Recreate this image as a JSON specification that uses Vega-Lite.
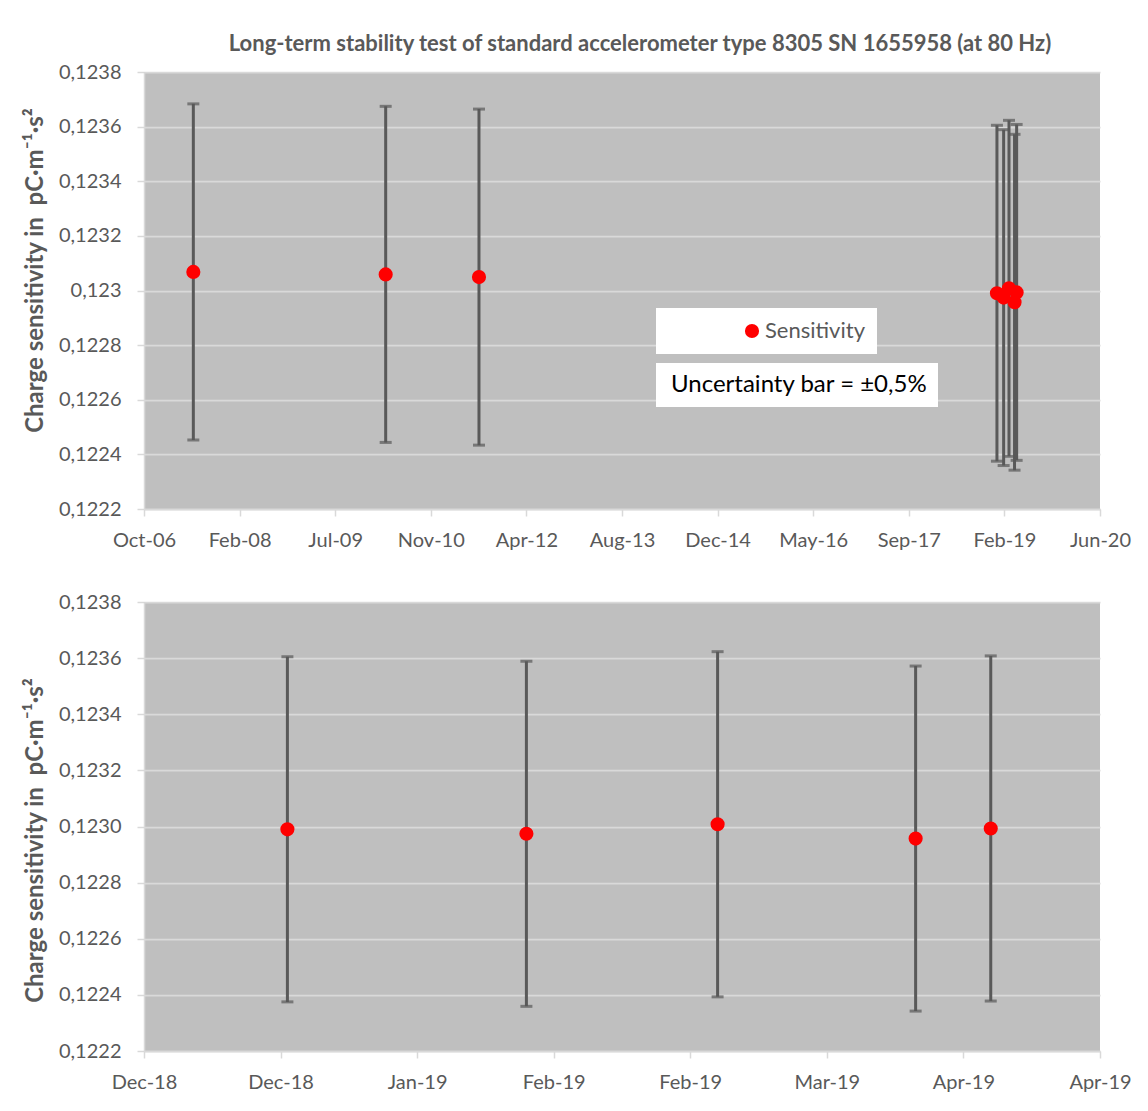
{
  "$schema": "https://vega.github.io/schema/vega-lite/v6.json",
  "background": "#FFFFFF",
  "padding": {"left": 23, "top": 33, "right": 12, "bottom": 8},
  "spacing": 42,
  "config": {
    "font": "Lato",
    "view": {"fill": "#BFBFBF", "stroke": null},
    "axis": {
      "labelFont": "Lato",
      "labelColor": "#595959",
      "labelFontSize": 20,
      "domainColor": "#D9D9D9",
      "domainWidth": 1.5,
      "tickColor": "#D9D9D9",
      "tickWidth": 1.5,
      "tickSize": 7,
      "gridColor": "#D9D9D9",
      "gridWidth": 1.75,
      "labelFlush": false,
      "labelOverlap": false,
      "titleFont": "Lato",
      "titleColor": "#595959",
      "titleFontWeight": "bold",
      "titleFontSize": 24
    }
  },
  "datasets": {
    "long": [
      {"date": "2007-06-25", "value": 0.123068, "lower": 0.1224527, "upper": 0.1236833},
      {"date": "2010-03-27", "value": 0.123059, "lower": 0.1224437, "upper": 0.1236743},
      {"date": "2011-07-28", "value": 0.123049, "lower": 0.1224338, "upper": 0.1236642},
      {"date": "2018-12-27", "value": 0.12299, "lower": 0.12237505, "upper": 0.12360495},
      {"date": "2019-01-31", "value": 0.122974, "lower": 0.12235913, "upper": 0.12358887},
      {"date": "2019-02-28", "value": 0.123008, "lower": 0.12239296, "upper": 0.12362304},
      {"date": "2019-03-29", "value": 0.122957, "lower": 0.12234222, "upper": 0.12357179},
      {"date": "2019-04-09", "value": 0.122993, "lower": 0.12237804, "upper": 0.12360797}
    ],
    "recent": [
      {"date": "2018-12-27", "value": 0.12299, "lower": 0.12237505, "upper": 0.12360495},
      {"date": "2019-01-31", "value": 0.122974, "lower": 0.12235913, "upper": 0.12358887},
      {"date": "2019-02-28", "value": 0.123008, "lower": 0.12239296, "upper": 0.12362304},
      {"date": "2019-03-29", "value": 0.122957, "lower": 0.12234222, "upper": 0.12357179},
      {"date": "2019-04-09", "value": 0.122993, "lower": 0.12237804, "upper": 0.12360797}
    ]
  },
  "resolve": {
    "scale": {"color": "independent", "stroke": "independent"},
    "legend": {"color": "independent", "stroke": "independent"}
  },
  "vconcat": [
    {
      "width": 956,
      "height": 437,
      "title": {
        "text": "Long-term stability test of standard accelerometer type 8305 SN 1655958 (at 80 Hz)",
        "font": "Lato",
        "fontSize": 22,
        "fontWeight": "bold",
        "color": "#595959",
        "anchor": "middle",
        "dx": 18,
        "offset": 6
      },
      "data": {"name": "long"},
      "encoding": {
        "x": {
          "field": "date",
          "type": "temporal",
          "scale": {
            "type": "utc",
            "nice": false,
            "domain": [{"year": 2006, "month": 10, "date": 10, "utc": true}, {"year": 2020, "month": 6, "date": 18, "utc": true}]
          },
          "axis": {
            "title": null,
            "grid": false,
            "labelExpr": "utcFormat(datum.value, '%b-%y')",
            "labelPadding": 14,
            "values": [
              {"year": 2006, "month": 10, "date": 10, "utc": true},
              {"year": 2008, "month": 2, "date": 22, "utc": true},
              {"year": 2009, "month": 7, "date": 6, "utc": true},
              {"year": 2010, "month": 11, "date": 18, "utc": true},
              {"year": 2012, "month": 4, "date": 1, "utc": true},
              {"year": 2013, "month": 8, "date": 14, "utc": true},
              {"year": 2014, "month": 12, "date": 27, "utc": true},
              {"year": 2016, "month": 5, "date": 10, "utc": true},
              {"year": 2017, "month": 9, "date": 22, "utc": true},
              {"year": 2019, "month": 2, "date": 4, "utc": true},
              {"year": 2020, "month": 6, "date": 18, "utc": true}
            ]
          }
        }
      },
      "layer": [
        {
          "mark": {"type": "rule", "strokeWidth": 3},
          "encoding": {
            "y": {
              "field": "lower",
              "type": "quantitative",
              "scale": {"domain": [0.1222, 0.1238], "nice": false, "zero": false},
              "axis": {
                "title": "Charge sensitivity in\u00a0 pC·m⁻¹·s²",
                "titleY": 198,
                "titlePadding": 7,
                "minExtent": 90,
                "maxExtent": 90,
                "labelPadding": 16,
                "values": [0.1222, 0.1224, 0.1226, 0.1228, 0.123, 0.1232, 0.1234, 0.1236, 0.1238],
                "labelExpr": "replace(format(datum.value, '.4~f'), '.', ',')"
              }
            },
            "y2": {"field": "upper"},
            "stroke": {
              "datum": "Uncertainty bar = ±0,5%",
              "type": "nominal",
              "scale": {"range": ["#595959"]},
              "legend": {
                "title": null,
                "orient": "none",
                "legendX": 512,
                "legendY": 291,
                "fillColor": "#FFFFFF",
                "padding": 10,
                "symbolSize": 0,
                "symbolOpacity": 0,
                "symbolStrokeWidth": 0,
                "labelOffset": -19,
                "labelFont": "Lato",
                "labelFontSize": 24,
                "labelColor": "#000000",
                "labelLimit": 400
              }
            }
          }
        },
        {
          "mark": {"type": "tick", "orient": "horizontal", "size": 12, "thickness": 3, "color": "#595959"},
          "encoding": {"y": {"field": "upper", "type": "quantitative"}}
        },
        {
          "mark": {"type": "tick", "orient": "horizontal", "size": 12, "thickness": 3, "color": "#595959"},
          "encoding": {"y": {"field": "lower", "type": "quantitative"}}
        },
        {
          "mark": {"type": "point", "filled": true, "opacity": 1, "size": 200, "shape": "circle"},
          "encoding": {
            "y": {"field": "value", "type": "quantitative"},
            "color": {
              "datum": "Sensitivity",
              "type": "nominal",
              "scale": {"range": ["#FF0000"]},
              "legend": {
                "title": null,
                "orient": "none",
                "legendX": 512,
                "legendY": 236,
                "fillColor": "#FFFFFF",
                "padding": 12,
                "symbolSize": 200,
                "symbolType": "circle",
                "symbolOpacity": 1,
                "symbolStrokeWidth": 0,
                "symbolOffset": 73,
                "labelOffset": 2,
                "labelFont": "Lato",
                "labelFontSize": 22,
                "labelColor": "#595959",
                "labelLimit": 400
              }
            }
          }
        }
      ]
    },
    {
      "width": 956,
      "height": 449,
      "data": {"name": "recent"},
      "encoding": {
        "x": {
          "field": "date",
          "type": "temporal",
          "scale": {
            "type": "utc",
            "nice": false,
            "domain": [{"year": 2018, "month": 12, "date": 6, "utc": true}, {"year": 2019, "month": 4, "date": 25, "utc": true}]
          },
          "axis": {
            "title": null,
            "grid": false,
            "labelExpr": "utcFormat(datum.value, '%b-%y')",
            "labelPadding": 14,
            "values": [
              {"year": 2018, "month": 12, "date": 6, "utc": true},
              {"year": 2018, "month": 12, "date": 26, "utc": true},
              {"year": 2019, "month": 1, "date": 15, "utc": true},
              {"year": 2019, "month": 2, "date": 4, "utc": true},
              {"year": 2019, "month": 2, "date": 24, "utc": true},
              {"year": 2019, "month": 3, "date": 16, "utc": true},
              {"year": 2019, "month": 4, "date": 5, "utc": true},
              {"year": 2019, "month": 4, "date": 25, "utc": true}
            ]
          }
        }
      },
      "layer": [
        {
          "mark": {"type": "rule", "strokeWidth": 3, "color": "#595959"},
          "encoding": {
            "y": {
              "field": "lower",
              "type": "quantitative",
              "scale": {"domain": [0.1222, 0.1238], "nice": false, "zero": false},
              "axis": {
                "title": "Charge sensitivity in\u00a0 pC·m⁻¹·s²",
                "titleY": 238,
                "titlePadding": 7,
                "minExtent": 90,
                "maxExtent": 90,
                "labelPadding": 16,
                "values": [0.1222, 0.1224, 0.1226, 0.1228, 0.123, 0.1232, 0.1234, 0.1236, 0.1238],
                "labelExpr": "replace(format(datum.value, '.4f'), '.', ',')"
              }
            },
            "y2": {"field": "upper"}
          }
        },
        {
          "mark": {"type": "tick", "orient": "horizontal", "size": 12, "thickness": 3, "color": "#595959"},
          "encoding": {"y": {"field": "upper", "type": "quantitative"}}
        },
        {
          "mark": {"type": "tick", "orient": "horizontal", "size": 12, "thickness": 3, "color": "#595959"},
          "encoding": {"y": {"field": "lower", "type": "quantitative"}}
        },
        {
          "mark": {"type": "point", "filled": true, "opacity": 1, "size": 200, "shape": "circle", "color": "#FF0000"},
          "encoding": {"y": {"field": "value", "type": "quantitative"}}
        }
      ]
    }
  ]
}
